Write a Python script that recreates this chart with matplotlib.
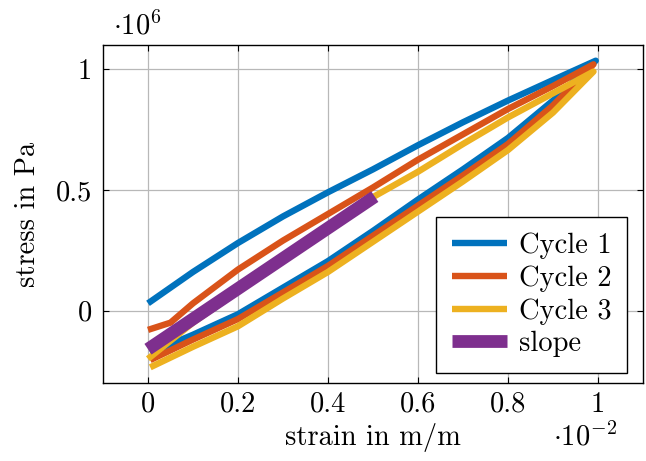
import matplotlib
matplotlib.use('Agg')
import matplotlib.pyplot as plt
from matplotlib.ticker import FixedLocator, FuncFormatter

plt.rcParams['font.family'] = ['cmr10', 'DejaVu Serif']
plt.rcParams['mathtext.fontset'] = 'cm'
plt.rcParams['axes.unicode_minus'] = False

# ── Data (strain in 1e-2 m/m, stress in 1e6 Pa) ─────────────────────────────
# each cycle: upper branch 0 -> 1, then lower branch back 1 -> 0
c1_x = [0.0, 0.1, 0.2, 0.3, 0.4, 0.5, 0.6, 0.7, 0.8, 0.9, 0.995,
        0.9, 0.8, 0.7, 0.6, 0.5, 0.4, 0.3, 0.2, 0.1, 0.005]
c1_y = [0.03, 0.16, 0.28, 0.39, 0.49, 0.585, 0.685, 0.78, 0.87, 0.955, 1.035,
        0.87, 0.715, 0.585, 0.46, 0.33, 0.205, 0.095, -0.015, -0.10, -0.175]

c2_x = [0.0, 0.05, 0.1, 0.2, 0.3, 0.4, 0.5, 0.6, 0.7, 0.8, 0.9, 0.99,
        0.9, 0.8, 0.7, 0.6, 0.5, 0.4, 0.3, 0.2, 0.1, 0.005]
c2_y = [-0.08, -0.05, 0.03, 0.17, 0.29, 0.40, 0.51, 0.625, 0.73, 0.835, 0.93, 1.02,
        0.85, 0.69, 0.56, 0.435, 0.31, 0.185, 0.075, -0.035, -0.12, -0.205]

c3_x = [0.0, 0.1, 0.2, 0.3, 0.4, 0.5, 0.6, 0.7, 0.8, 0.9, 0.99,
        0.9, 0.8, 0.7, 0.6, 0.5, 0.4, 0.3, 0.2, 0.1, 0.005]
c3_y = [-0.20, -0.05, 0.08, 0.21, 0.34, 0.47, 0.575, 0.69, 0.80, 0.90, 0.99,
        0.82, 0.665, 0.535, 0.41, 0.285, 0.16, 0.05, -0.065, -0.15, -0.235]

slope_x = [0.0, 0.504]
slope_y = [-0.16, 0.472]

x_ticks = [0, 0.2, 0.4, 0.6, 0.8, 1]
y_ticks = [0, 0.5, 1]

BLUE, ORANGE, YELLOW, PURPLE = '#0072BD', '#D95319', '#EDB120', '#7E2F8E'
FS = 20.5

# ── Figure ──────────────────────────────────────────────────────────────────
fig = plt.figure(figsize=(6.46, 4.61), dpi=100)
ax = fig.add_axes([103/646, 1 - 383/461, 540/646, 338/461])

ax.plot(c1_x, c1_y, color=BLUE, lw=4.6, label='Cycle 1', solid_capstyle='butt')
ax.plot(c2_x, c2_y, color=ORANGE, lw=4.6, label='Cycle 2', solid_capstyle='butt')
ax.plot(c3_x, c3_y, color=YELLOW, lw=4.6, label='Cycle 3', solid_capstyle='butt')
ax.plot(slope_x, slope_y, color=PURPLE, lw=9.2, label='slope', solid_capstyle='butt')

ax.set_xlim(-0.1, 1.1)
ax.set_ylim(-0.3, 1.1)
ax.xaxis.set_major_locator(FixedLocator(x_ticks))
ax.yaxis.set_major_locator(FixedLocator(y_ticks))
fmt = FuncFormatter(lambda v, p: ('%g' % v))
ax.xaxis.set_major_formatter(fmt)
ax.yaxis.set_major_formatter(fmt)
ax.grid(True, color='#b8b8b8', lw=0.9)
ax.set_axisbelow(True)
ax.tick_params(direction='in', top=True, right=True, length=4, width=0.8,
               labelsize=FS)
ax.tick_params(axis='x', pad=6)
ax.tick_params(axis='y', pad=8)
for s in ax.spines.values():
    s.set_linewidth(1.0)

ax.set_xlabel('strain in m/m', fontsize=FS, va='center')
ax.xaxis.set_label_coords(0.5, (383 - 437) / 338)
ax.set_ylabel('stress in Pa', fontsize=FS, va='center')
ax.yaxis.set_label_coords((28 - 103) / 540, 0.5)

fig.text(113/646, 1 - 26/461, r'$\cdot 10^{6}$', fontsize=FS, ha='left', va='center')
fig.text(553/646, 1 - 437/461, r'$\cdot 10^{-2}$', fontsize=FS, ha='left', va='center')

leg = ax.legend(loc='lower right', bbox_to_anchor=(0.970, 0.030), borderaxespad=0,
                fontsize=FS, handlelength=1.93, fancybox=False, edgecolor='black',
                framealpha=1, borderpad=0.55, labelspacing=0.22, handletextpad=0.42)
leg.get_frame().set_linewidth(1.0)

fig.savefig('out.png', dpi=100)
